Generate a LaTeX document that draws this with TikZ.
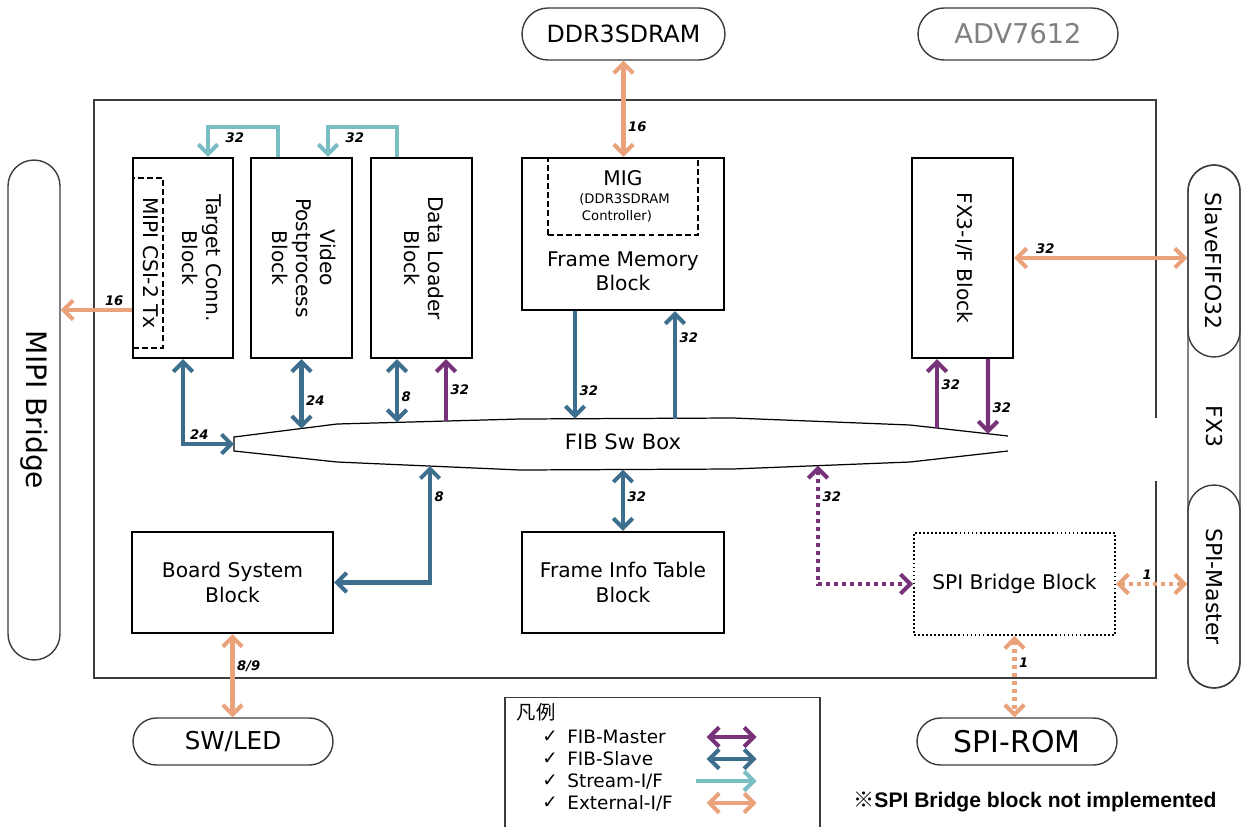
\documentclass[tikz,border=0pt]{standalone}
\usepackage{fontspec}
\setmainfont{DejaVu Sans}
\newfontfamily\jpfont{Noto Sans CJK JP}
\newfontfamily\notefont{Liberation Sans}
\usetikzlibrary{arrows.meta,calc,shapes.misc}
\definecolor{fibmaster}{RGB}{120,50,122}
\definecolor{fibslave}{RGB}{62,110,142}
\definecolor{streamif}{RGB}{122,190,196}
\definecolor{extif}{RGB}{234,162,122}
\definecolor{pillgray}{RGB}{60,60,60}
\definecolor{advgray}{RGB}{128,128,128}
\newcommand{\blkfont}{\fontsize{11.5}{13.8}\selectfont}
\newcommand{\numfont}{\fontsize{7.5}{8}\selectfont\bfseries\itshape}
\newcommand{\vtext}[1]{\rotatebox{-90}{\begin{tabular}{@{}c@{}}#1\end{tabular}}}
\tikzset{
  blk/.style={draw=black,line width=1.4pt,inner sep=0pt,font=\blkfont,align=center},
  dashblk/.style={draw=black,line width=1.1pt,dash pattern=on 3.4pt off 1.8pt,inner sep=0pt,font=\blkfont},
  dotblk/.style={draw=black,line width=1pt,dash pattern=on 1pt off 1.3pt,inner sep=0pt,font=\blkfont},
  pill/.style={rounded rectangle,draw=pillgray,line width=0.8pt,inner sep=0pt},
  lnk/.style={line width=2.3pt},
  mst/.style={lnk,fibmaster},
  slv/.style={lnk,fibslave},
  strm/.style={lnk,streamif},
  ext/.style={lnk,extif},
  dots/.style={dash pattern=on 2.3pt off 2.3pt},
  num/.style={font=\numfont,inner sep=1.5pt,text=black},
  legtxt/.style={font=\fontsize{10.5}{12}\selectfont,inner sep=0pt},
  >={Straight Barb[length=5.5pt,width=11pt]}
}

\begin{document}
\begin{tikzpicture}[x=0.02cm,y=-0.02cm]
  \useasboundingbox (0,0) rectangle (1242,826);
  \draw[line width=1.2pt,pillgray] (1156,418) -- (1156,100) -- (94,100) -- (94,678) -- (1156,678) -- (1156,481);

  \node[pill,minimum width=10cm,minimum height=1.04cm,rotate=-90,font=\fontsize{16}{18}\selectfont] (mipi) at (34,410) {MIPI Bridge};
  \node[pill,minimum width=4.06cm,minimum height=1.04cm,font=\fontsize{13.5}{15}\selectfont] (ddr) at (623.5,34) {DDR3SDRAM};
  \node[pill,minimum width=4cm,minimum height=1.04cm,text=advgray,font=\fontsize{15.5}{17}\selectfont] (adv) at (1018,34) {ADV7612};
  \node[pill,minimum width=10.46cm,minimum height=1.04cm,rotate=-90,font=\fontsize{12.5}{14}\selectfont] (fx3) at (1214,426.5) {FX3};
  \node[pill,minimum width=3.84cm,minimum height=1.04cm,rotate=-90,font=\fontsize{12.5}{14}\selectfont] (sfifo) at (1214,261) {SlaveFIFO32};
  \node[pill,minimum width=4.06cm,minimum height=1.04cm,rotate=-90,font=\fontsize{12.5}{14}\selectfont] (spim) at (1214,586.5) {SPI-Master};
  \node[pill,minimum width=4cm,minimum height=0.94cm,font=\fontsize{14}{16}\selectfont] (swled) at (233,741.5) {SW/LED};
  \node[pill,minimum width=4cm,minimum height=0.94cm,font=\fontsize{17}{19}\selectfont] (spirom) at (1017,741.5) {SPI-ROM};

  \node[blk,minimum width=2cm,minimum height=4cm] (tconn) at (183,258) {};
  \node[dashblk,minimum width=0.6cm,minimum height=3.4cm] (csi) at (148,263) {\vtext{MIPI CSI-2 Tx}};
  \node[font=\blkfont] (tconnlbl) at (199,258) {\vtext{Target Conn.\\Block}};
  \node[blk,minimum width=2.02cm,minimum height=4cm] (vpp) at (301.5,258) {\vtext{Video\\Postprocess\\Block}};
  \node[blk,minimum width=2.02cm,minimum height=4cm] (dload) at (421.5,258) {\vtext{Data Loader\\Block}};
  \node[blk,minimum width=4.04cm,minimum height=3.04cm] (fmem) at (623,234) {};
  \node[dashblk,minimum width=3cm,minimum height=1.54cm] (mig) at (623,196.5) {};
  \node[font=\blkfont] (migname) at (623,178) {MIG};
  \node[font=\fontsize{7.5}{9.6}\selectfont,align=left,anchor=west,inner sep=0pt] (migsub) at (579,207.5) {(DDR3SDRAM\\\hspace{1.5pt}Controller)};
  \node[font=\blkfont,align=center] (fmemlbl) at (623,271) {Frame Memory\\Block};
  \node[blk,minimum width=2.02cm,minimum height=4cm] (fx3if) at (962.5,258) {\vtext{FX3-I/F Block}};
  \node[blk,minimum width=4.02cm,minimum height=2.02cm] (bsys) at (232.5,582.5) {Board System\\Block};
  \node[blk,minimum width=4.04cm,minimum height=2.02cm] (fitab) at (623,582.5) {Frame Info Table\\Block};
  \node[dotblk,minimum width=4.02cm,minimum height=2.04cm] (spib) at (1014.5,584) {SPI Bridge Block};

  \draw[line width=0.7pt] (1008,436) -- (910,425) -- (733,418) -- (520,419) -- (337,424) -- (234,437)
    -- (234,451) -- (337,462) -- (520,470) -- (733,469) -- (910,462) -- (1008,451);
  \node[font=\fontsize{12}{14}\selectfont] (fib) at (623,442) {FIB Sw Box};
  \coordinate (fibw) at (234,444);
  \coordinate (fvpp) at (301.5,428.5);
  \coordinate (fdls) at (397,422.4);
  \coordinate (fdlm) at (446,421);
  \coordinate (fmdn) at (575,418.7);
  \coordinate (fmup) at (675,418.5);
  \coordinate (ffxu) at (937,428);
  \coordinate (ffxd) at (988,433.8);
  \coordinate (fbs) at (430,466);
  \coordinate (ffi) at (623,469.5);
  \coordinate (fspi) at (818,465.6);
  \coordinate (csiout) at ($(csi.west)+(0,47)$);

  \draw[strm,->] ($(vpp.north)+(-23.5,0)$) -- ++(0,-30) -| node[num,pos=0.5,anchor=north west,xshift=0.26cm,yshift=-0.03cm] {32} ($(tconn.north)+(25,0)$);
  \draw[strm,->] ($(dload.north)+(-24.5,0)$) -- ++(0,-30) -| node[num,pos=0.5,anchor=north west,xshift=0.26cm,yshift=-0.03cm] {32} ($(vpp.north)+(26.5,0)$);

  \draw[ext,->] (csiout) -- node[num,pos=0.25,above] {16} (csiout -| mipi.north);
  \draw[ext,<->] (ddr.south) -- node[num,pos=0.69,right] {16} (ddr.south |- fmem.north);
  \draw[ext,<->] (fx3if.east) -- node[num,pos=0.18,above] {32} (fx3if.east -| sfifo.south);
  \draw[ext,dots,<->] (spib.east) -- node[num,pos=0.44,above] {1} (spib.east -| spim.south);
  \draw[ext,dots,<->] (spib.south) -- node[num,pos=0.33,right] {1} (spib.south |- spirom.north);
  \draw[ext,<->] (bsys.south) -- node[num,pos=0.38,right] {8/9} (bsys.south |- swled.north);

  \draw[slv,<->] (tconn.south) |- node[num,pos=0.66,above] {24} (fibw);
  \draw[slv,<->] (vpp.south) -- node[num,pos=0.6,right] {24} (vpp.south |- fvpp);
  \draw[slv,<->] ($(dload.south)+(-24.5,0)$) -- node[num,pos=0.6,right] {8} (fdls);
  \draw[mst,->] (fdlm) -- node[num,pos=0.5,right] {32} (fdlm |- dload.south);
  \draw[slv,->] ($(fmem.south)+(-48,0)$) -- node[num,pos=0.74,right] {32} (fmdn);
  \draw[slv,->] (fmup) -- node[num,pos=0.75,right] {32} (fmup |- fmem.south);
  \draw[mst,->] (ffxu) -- node[num,pos=0.63,right] {32} (ffxu |- fx3if.south);
  \draw[mst,->] ($(fx3if.south)+(25.5,0)$) -- node[num,pos=0.65,right] {32} (ffxd);
  \draw[slv,<->] (bsys.east) -| node[num,pos=0.87,right] {8} (fbs);
  \draw[slv,<->] (ffi) -- node[num,pos=0.45,right] {32} (fitab.north);
  \draw[mst,dots,<->] (fspi) |- node[num,pos=0.13,right] {32} (spib.west);

  \node[draw=pillgray,line width=0.8pt,minimum width=6.3cm,minimum height=2.66cm,inner sep=0pt] (legend) at (662.5,764) {};
  \node[font=\jpfont\fontsize{11}{13}\selectfont] (legtitle) at (536,712) {凡例};
  \foreach \i/\y/\txt in {1/737/FIB-Master,2/759/FIB-Slave,3/781/{Stream-I/F},4/803/{External-I/F}} {
    \node[legtxt] (chk\i) at (550,\y) {✓};
    \node[legtxt,anchor=west] (leg\i) at (567,\y) {\txt};
  }
  \draw[mst,<->] ($(leg1 -| legend.east)+(-114,0)$) -- ($(leg1 -| legend.east)+(-64,0)$);
  \draw[slv,<->] ($(leg2 -| legend.east)+(-114,0)$) -- ($(leg2 -| legend.east)+(-64,0)$);
  \draw[strm,->] ($(leg3 -| legend.east)+(-125,0)$) -- ($(leg3 -| legend.east)+(-64,0)$);
  \draw[ext,<->] ($(leg4 -| legend.east)+(-114,0)$) -- ($(leg4 -| legend.east)+(-64,0)$);

  \node[font=\notefont\bfseries\fontsize{12}{14}\selectfont,anchor=west,inner sep=0pt] (note) at (853,802) {{\jpfont ※}SPI Bridge block not implemented};
\end{tikzpicture}
\end{document}
